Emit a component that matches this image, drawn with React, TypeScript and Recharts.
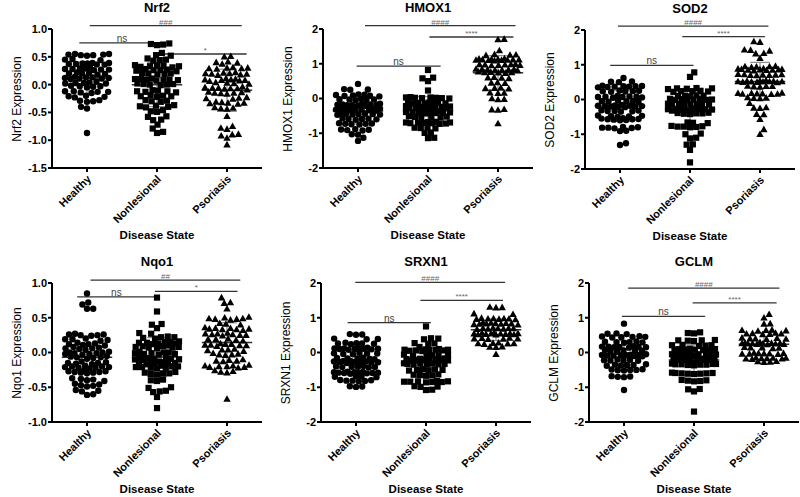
import React from "react";
import { ScatterChart, Scatter, XAxis, YAxis, ReferenceLine } from "recharts";

const FONT = '"Liberation Sans", Arial, sans-serif';

const categories = ["Healthy", "Nonlesional", "Psoriasis"];

// ---- Nrf2 ----
const nrf2Healthy = [
  0.55, 0.54, 0.53, 0.55, 0.52, 0.53, 0.54, 0.46, 0.44, 0.45, 0.38, 0.37, 0.39, 0.36, 0.38, 0.37, 0.36, 0.39,
  0.29, 0.28, 0.27, 0.3, 0.28, 0.29, 0.27, 0.26, 0.21, 0.2, 0.19, 0.22, 0.2, 0.18, 0.13, 0.12, 0.11, 0.14, 0.12,
  0.13, 0.1, 0.11, 0.04, 0.03, 0.02, 0.05, 0.03, 0.02, -0.03, -0.04, -0.02, -0.05, -0.03, -0.13, -0.12, -0.14,
  -0.15, -0.12, -0.13, -0.22, -0.21, -0.2, -0.23, -0.3, -0.29, -0.31, -0.28, -0.4, -0.43, -0.87,
];
const nrf2Nonlesional = [
  0.73, 0.72, 0.74, 0.71, 0.57, 0.53, 0.52, 0.47, 0.45, 0.43, 0.44, 0.34, 0.33, 0.32, 0.35, 0.33, 0.31, 0.34,
  0.27, 0.26, 0.25, 0.28, 0.26, 0.24, 0.2, 0.19, 0.21, 0.18, 0.2, 0.1, 0.09, 0.08, 0.11, 0.09, 0.07, 0.1, 0.08,
  0.01, 0.0, 0.02, -0.01, 0.0, 0.01, -0.11, -0.12, -0.13, -0.1, -0.12, -0.14, -0.21, -0.2, -0.22, -0.21, -0.19,
  -0.3, -0.29, -0.31, -0.28, -0.39, -0.4, -0.38, -0.41, -0.37, -0.48, -0.46, -0.49, -0.57, -0.58, -0.63, -0.64,
  -0.72, -0.79, -0.87, -0.85,
];
const nrf2Psoriasis = [
  0.5, 0.51, 0.41, 0.4, 0.39, 0.37, 0.3, 0.29, 0.31, 0.28, 0.29, 0.3, 0.2, 0.19, 0.21, 0.18, 0.2, 0.22, 0.19,
  0.17, 0.09, 0.08, 0.1, 0.07, 0.09, 0.11, 0.08, 0.06, 0.03, 0.02, 0.04, 0.01, -0.06, -0.07, -0.05, -0.08, -0.06,
  -0.07, -0.04, -0.09, -0.15, -0.16, -0.14, -0.17, -0.15, -0.13, -0.24, -0.25, -0.23, -0.26, -0.33, -0.34, -0.32,
  -0.35, -0.33, -0.31, -0.42, -0.43, -0.41, -0.44, -0.57, -0.75, -0.78, -0.8, -0.9, -0.92, -0.89, -0.96, -1.08,
];

// ---- HMOX1 ----
const hmox1Healthy = [
  0.42, 0.27, 0.25, 0.26, 0.1, 0.08, 0.12, 0.06, 0.09, 0.11, 0.07, -0.03, -0.02, -0.04, -0.01, -0.03, -0.05,
  -0.18, -0.17, -0.19, -0.16, -0.18, -0.2, -0.17, -0.19, -0.15, -0.21, -0.32, -0.31, -0.33, -0.3, -0.32, -0.34,
  -0.31, -0.33, -0.29, -0.35, -0.45, -0.44, -0.46, -0.43, -0.47, -0.45, -0.44, -0.46, -0.59, -0.58, -0.6, -0.57,
  -0.61, -0.59, -0.73, -0.72, -0.74, -0.71, -0.75, -0.73, -0.9, -0.88, -0.91, -0.89, -0.92, -1.04, -1.03, -1.13,
  -1.22,
];
const hmox1Nonlesional = [
  0.82, 0.6, 0.58, 0.5, 0.23, 0.02, 0.01, 0.03, 0.0, 0.02, 0.04, 0.01, 0.03, -0.13, -0.12, -0.14, -0.11, -0.13,
  -0.15, -0.12, -0.14, -0.25, -0.24, -0.26, -0.23, -0.25, -0.27, -0.24, -0.26, -0.22, -0.28, -0.4, -0.39, -0.41,
  -0.38, -0.4, -0.42, -0.39, -0.41, -0.37, -0.43, -0.53, -0.52, -0.54, -0.51, -0.55, -0.53, -0.7, -0.69, -0.71,
  -0.68, -0.72, -0.7, -0.69, -0.71, -0.67, -0.73, -0.85, -0.84, -0.86, -0.83, -0.99, -0.98, -1.14, -1.13,
];
const hmox1Psoriasis = [
  1.7, 1.71, 1.38, 1.26, 1.25, 1.27, 1.24, 1.12, 1.11, 1.13, 1.1, 1.12, 1.14, 1.11, 1.13, 1.09, 1.15, 1.12, 1.1,
  0.97, 0.96, 0.98, 0.95, 0.97, 0.99, 0.96, 0.98, 0.83, 0.82, 0.84, 0.81, 0.83, 0.85, 0.82, 0.84, 0.75, 0.74,
  0.76, 0.73, 0.75, 0.77, 0.6, 0.59, 0.61, 0.58, 0.45, 0.44, 0.46, 0.3, 0.29, 0.31, 0.28, 0.16, 0.15, 0.17,
  -0.03, -0.02, 0.0, -0.32, -0.31, -0.33, -0.72,
];

// ---- SOD2 ----
const sod2Healthy = [
  0.62, 0.52, 0.5, 0.51, 0.38, 0.37, 0.39, 0.36, 0.38, 0.4, 0.37, 0.35, 0.24, 0.23, 0.25, 0.22, 0.24, 0.26, 0.08,
  0.07, 0.09, 0.06, 0.08, 0.1, 0.07, 0.05, -0.05, -0.04, -0.06, -0.03, -0.05, -0.07, -0.19, -0.18, -0.2, -0.17,
  -0.19, -0.21, -0.18, -0.2, -0.16, -0.22, -0.33, -0.32, -0.34, -0.31, -0.35, -0.33, -0.48, -0.47, -0.49, -0.46,
  -0.5, -0.57, -0.56, -0.58, -0.55, -0.59, -0.57, -0.6, -0.54, -0.81, -0.8, -0.82, -0.79, -0.83, -0.81, -0.9,
  -0.91, -1.26, -1.31,
];
const sod2Nonlesional = [
  0.78, 0.65, 0.32, 0.31, 0.33, 0.3, 0.32, 0.24, 0.23, 0.25, 0.22, 0.24, 0.11, 0.1, 0.12, 0.09, 0.11, 0.0, 0.01,
  -0.01, 0.02, 0.0, -0.02, 0.01, -0.01, -0.14, -0.13, -0.15, -0.12, -0.14, -0.16, -0.13, -0.15, -0.29, -0.28,
  -0.3, -0.27, -0.29, -0.31, -0.28, -0.3, -0.26, -0.32, -0.4, -0.39, -0.41, -0.38, -0.42, -0.4, -0.67, -0.66,
  -0.68, -0.78, -0.77, -0.79, -0.76, -0.8, -0.78, -1.0, -0.98, -1.1, -1.12, -1.29, -1.3, -1.45, -1.81,
];
const sod2Psoriasis = [
  1.67, 1.65, 1.43, 1.42, 1.4, 1.33, 1.32, 1.19, 0.95, 0.94, 0.96, 0.93, 0.95, 0.86, 0.85, 0.87, 0.84, 0.86,
  0.88, 0.85, 0.87, 0.83, 0.89, 0.71, 0.7, 0.72, 0.69, 0.71, 0.73, 0.7, 0.72, 0.52, 0.51, 0.53, 0.5, 0.52, 0.54,
  0.51, 0.53, 0.49, 0.55, 0.52, 0.5, 0.38, 0.37, 0.39, 0.36, 0.38, 0.17, 0.16, 0.18, 0.15, 0.17, 0.19, 0.16,
  0.18, 0.05, 0.04, 0.06, 0.03, -0.11, -0.24, -0.23, -0.25, -0.43, -0.42, -0.57, -0.86, -1.0,
];

// ---- Nqo1 ----
const nqo1Healthy = [
  0.85, 0.72, 0.69, 0.63, 0.63, 0.25, 0.26, 0.24, 0.27, 0.25, 0.26, 0.19, 0.18, 0.2, 0.17, 0.19, 0.12, 0.11, 0.13,
  0.1, 0.12, 0.14, 0.06, 0.05, 0.07, 0.04, 0.06, 0.08, -0.01, 0.0, -0.02, 0.01, -0.01, -0.03, 0.0, -0.02, -0.07,
  -0.06, -0.08, -0.05, -0.07, -0.09, -0.15, -0.14, -0.16, -0.13, -0.15, -0.17, -0.21, -0.2, -0.22, -0.19, -0.21,
  -0.23, -0.2, -0.22, -0.28, -0.27, -0.29, -0.26, -0.28, -0.3, -0.27, -0.29, -0.39, -0.38, -0.4, -0.37, -0.41,
  -0.47, -0.46, -0.48, -0.45, -0.49, -0.55, -0.54, -0.56, -0.61, -0.6,
];
const nqo1Nonlesional = [
  0.79, 0.59, 0.41, 0.4, 0.35, 0.28, 0.27, 0.22, 0.21, 0.23, 0.2, 0.22, 0.14, 0.13, 0.15, 0.12, 0.14, 0.16, 0.13,
  0.15, 0.08, 0.07, 0.09, 0.06, 0.08, 0.1, 0.07, 0.09, -0.01, 0.0, -0.02, 0.01, -0.01, -0.03, 0.0, -0.02, -0.09,
  -0.08, -0.1, -0.07, -0.09, -0.11, -0.08, -0.1, -0.15, -0.14, -0.16, -0.13, -0.15, -0.17, -0.14, -0.16, -0.21,
  -0.2, -0.22, -0.19, -0.21, -0.23, -0.2, -0.22, -0.3, -0.29, -0.31, -0.28, -0.3, -0.32, -0.4, -0.39, -0.41,
  -0.51, -0.5, -0.56, -0.55, -0.57, -0.64, -0.8,
];
const nqo1Psoriasis = [
  0.79, 0.72, 0.71, 0.63, 0.49, 0.48, 0.5, 0.47, 0.49, 0.51, 0.48, 0.41, 0.4, 0.42, 0.34, 0.33, 0.35, 0.32, 0.34,
  0.36, 0.33, 0.35, 0.26, 0.25, 0.27, 0.24, 0.26, 0.28, 0.25, 0.27, 0.19, 0.18, 0.2, 0.17, 0.19, 0.11, 0.1, 0.12,
  0.09, 0.11, 0.13, 0.1, 0.12, 0.04, 0.03, 0.05, 0.02, 0.04, -0.03, -0.02, -0.04, -0.01, -0.03, -0.12, -0.11,
  -0.13, -0.1, -0.12, -0.2, -0.19, -0.21, -0.18, -0.2, -0.22, -0.19, -0.21, -0.28, -0.27, -0.29, -0.26, -0.67,
];

// ---- SRXN1 ----
const srxn1Healthy = [
  0.51, 0.53, 0.52, 0.4, 0.39, 0.38, 0.26, 0.25, 0.27, 0.24, 0.26, 0.28, 0.11, 0.1, 0.12, 0.09, 0.11, 0.13, 0.1,
  0.12, 0.08, 0.14, -0.03, -0.02, -0.04, -0.01, -0.03, -0.05, -0.17, -0.16, -0.18, -0.15, -0.17, -0.19, -0.27,
  -0.26, -0.28, -0.25, -0.27, -0.29, -0.26, -0.28, -0.24, -0.3, -0.41, -0.4, -0.42, -0.39, -0.41, -0.43, -0.42,
  -0.58, -0.57, -0.59, -0.56, -0.58, -0.6, -0.57, -0.59, -0.55, -0.61, -0.58, -0.7, -0.69, -0.71, -0.68, -0.81,
  -0.8, -0.82, -0.79, -0.83, -0.81, -0.98, -0.97, -0.99,
];
const srxn1Nonlesional = [
  0.75, 0.4, 0.38, 0.41, 0.26, 0.25, 0.27, 0.16, 0.07, 0.06, 0.08, 0.05, 0.07, 0.09, 0.06, 0.08, 0.04, 0.1, -0.08,
  -0.07, -0.09, -0.06, -0.08, -0.1, -0.2, -0.19, -0.21, -0.18, -0.2, -0.22, -0.19, -0.21, -0.17, -0.23, -0.33,
  -0.32, -0.34, -0.31, -0.33, -0.35, -0.32, -0.34, -0.5, -0.49, -0.51, -0.48, -0.5, -0.52, -0.65, -0.64, -0.66,
  -0.63, -0.67, -0.84, -0.83, -0.85, -0.82, -0.86, -0.84, -0.83, -0.85, -0.98, -0.97, -0.99, -1.08, -1.07,
];
const srxn1Psoriasis = [
  1.3, 1.29, 1.31, 1.1, 1.12, 0.97, 0.96, 0.98, 0.95, 0.97, 0.99, 0.96, 0.98, 0.83, 0.82, 0.84, 0.81, 0.83, 0.85,
  0.82, 0.84, 0.8, 0.86, 0.69, 0.68, 0.7, 0.67, 0.69, 0.71, 0.68, 0.7, 0.54, 0.53, 0.55, 0.52, 0.54, 0.56, 0.53,
  0.55, 0.51, 0.57, 0.54, 0.52, 0.4, 0.39, 0.41, 0.38, 0.4, 0.42, 0.26, 0.25, 0.27, 0.24, 0.26, 0.28, 0.16, 0.15,
  0.17, -0.05,
];

// ---- GCLM ----
const gclmHealthy = [
  0.83, 0.54, 0.53, 0.55, 0.45, 0.44, 0.46, 0.43, 0.45, 0.47, 0.3, 0.29, 0.31, 0.28, 0.3, 0.32, 0.16, 0.15, 0.17,
  0.14, 0.16, 0.18, 0.15, 0.17, 0.05, 0.04, 0.06, 0.03, 0.05, 0.07, -0.08, -0.07, -0.09, -0.06, -0.08, -0.1,
  -0.07, -0.09, -0.05, -0.11, -0.22, -0.21, -0.23, -0.2, -0.22, -0.24, -0.36, -0.35, -0.37, -0.34, -0.36, -0.38,
  -0.5, -0.49, -0.51, -0.48, -0.5, -0.52, -0.7, -0.69, -0.71, -0.68, -1.08,
];
const gclmNonlesional = [
  0.56, 0.58, 0.55, 0.35, 0.34, 0.36, 0.33, 0.35, 0.21, 0.2, 0.22, 0.19, 0.21, 0.09, 0.08, 0.1, 0.07, 0.09, 0.11,
  0.08, 0.1, -0.06, -0.05, -0.07, -0.04, -0.06, -0.08, -0.05, -0.07, -0.03, -0.09, -0.2, -0.19, -0.21, -0.18,
  -0.2, -0.22, -0.19, -0.21, -0.17, -0.23, -0.34, -0.33, -0.35, -0.32, -0.34, -0.36, -0.33, -0.35, -0.31, -0.37,
  -0.6, -0.59, -0.61, -0.58, -0.6, -0.62, -0.59, -0.61, -0.81, -0.8, -0.82, -0.79, -0.83, -1.06, -1.05, -1.12,
  -1.7,
];
const gclmPsoriasis = [
  1.1, 1.0, 0.83, 0.82, 0.64, 0.63, 0.65, 0.62, 0.64, 0.54, 0.53, 0.55, 0.52, 0.54, 0.56, 0.4, 0.39, 0.41, 0.38,
  0.4, 0.42, 0.26, 0.25, 0.27, 0.24, 0.26, 0.28, 0.25, 0.27, 0.23, 0.29, 0.26, 0.24, 0.14, 0.13, 0.15, 0.12,
  0.14, -0.03, -0.02, -0.04, -0.01, -0.03, -0.05, -0.02, -0.04, -0.17, -0.16, -0.18, -0.15, -0.17, -0.19, -0.16,
  -0.18, -0.27, -0.26, -0.28, -0.25,
];

// y-axis ticks
const nrf2Ticks = [-1.5, -1.0, -0.5, 0, 0.5, 1.0];
const nqo1Ticks = [-1.0, -0.5, 0, 0.5, 1.0];
const wideTicks = [-2, -1, 0, 1, 2];

// significance bars: from / to on the category axis, y level, text
const nrf2Stats = [
  { from: 0.04, to: 2.21, y: 1.06, text: "###" },
  { from: -0.11, to: 1.11, y: 0.75, text: "ns" },
  { from: 1.1, to: 2.28, y: 0.55, text: "*" },
];
const hmox1Stats = [
  { from: 0.1, to: 2.25, y: 2.1, text: "####" },
  { from: 1.02, to: 2.22, y: 1.77, text: "****" },
  { from: -0.02, to: 1.18, y: 0.93, text: "ns" },
];
const sod2Stats = [
  { from: -0.03, to: 2.12, y: 2.11, text: "####" },
  { from: 0.89, to: 2.07, y: 1.81, text: "****" },
  { from: -0.14, to: 1.05, y: 0.98, text: "ns" },
];
const nqo1Stats = [
  { from: 0.05, to: 2.19, y: 1.04, text: "##" },
  { from: -0.14, to: 0.98, y: 0.8, text: "ns" },
  { from: 0.97, to: 2.15, y: 0.88, text: "*" },
];
const srxn1Stats = [
  { from: -0.01, to: 2.13, y: 2.02, text: "####" },
  { from: 0.92, to: 2.1, y: 1.5, text: "****" },
  { from: -0.12, to: 1.07, y: 0.86, text: "ns" },
];
const gclmStats = [
  { from: 0.06, to: 2.22, y: 1.85, text: "####" },
  { from: 0.98, to: 2.18, y: 1.43, text: "****" },
  { from: -0.03, to: 1.16, y: 1.04, text: "ns" },
];

const panels = [
  { title: "Nrf2", groups: [nrf2Healthy, nrf2Nonlesional, nrf2Psoriasis], ticks: nrf2Ticks, stats: nrf2Stats, decimals: 1, left: 52, top: 29 },
  { title: "HMOX1", groups: [hmox1Healthy, hmox1Nonlesional, hmox1Psoriasis], ticks: wideTicks, stats: hmox1Stats, decimals: 0, left: 323, top: 29 },
  { title: "SOD2", groups: [sod2Healthy, sod2Nonlesional, sod2Psoriasis], ticks: wideTicks, stats: sod2Stats, decimals: 0, left: 585, top: 30 },
  { title: "Nqo1", groups: [nqo1Healthy, nqo1Nonlesional, nqo1Psoriasis], ticks: nqo1Ticks, stats: nqo1Stats, decimals: 1, left: 52, top: 283 },
  { title: "SRXN1", groups: [srxn1Healthy, srxn1Nonlesional, srxn1Psoriasis], ticks: wideTicks, stats: srxn1Stats, decimals: 0, left: 321, top: 283 },
  { title: "GCLM", groups: [gclmHealthy, gclmNonlesional, gclmPsoriasis], ticks: wideTicks, stats: gclmStats, decimals: 0, left: 589, top: 283 },
];

const W = 270;
const H = 248;
const AXIS_W = 52;
const MT = 29;
const PLOT_W = 210;
const PLOT_H = 139;
const X_PX = PLOT_W / 3;
const DOT = 6.2;
const HALF_W = 22;

// column scatter layout: each point goes as close to the centre as it can
// without touching the ones already placed; crowded rows get squeezed
function swarm(values: number[], pxPerY: number) {
  const order = values.map((_, i) => i).sort((a, b) => values[a] - values[b]);
  const placed: { x: number; y: number }[] = [];
  const out = new Array(values.length).fill(0);
  let flip = 1;
  for (const id of order) {
    const y = values[id] * pxPerY;
    const near = placed.filter((p) => Math.abs(p.y - y) < DOT);
    const blocked = near.map((p) => {
      const w = Math.sqrt(DOT * DOT - (p.y - y) * (p.y - y));
      return [p.x - w, p.x + w];
    });
    const cands = [0, ...blocked.flat()]
      .filter((c) => Math.abs(c) <= HALF_W)
      .sort((a, b) => Math.abs(a) - Math.abs(b) || flip * (a - b));
    let x = cands.find((c) => blocked.every(([a, b]) => c <= a + 1e-6 || c >= b - 1e-6));
    if (x === undefined) {
      let best = 0;
      let bestGap = -1;
      for (let c = -HALF_W; c <= HALF_W; c += 0.5) {
        const gap = Math.min(...near.map((p) => Math.hypot(p.x - c, p.y - y)));
        if (gap > bestGap) {
          bestGap = gap;
          best = c;
        }
      }
      x = best;
    }
    flip = -flip;
    placed.push({ x, y });
    out[id] = x / X_PX;
  }
  return out;
}

const Circle = (p: any) => <circle cx={p.cx} cy={p.cy} r={3.2} fill="#000" />;
const Square = (p: any) => <rect x={p.cx - 3.1} y={p.cy - 3.1} width={6.2} height={6.2} fill="#000" />;
const Triangle = (p: any) => (
  <polygon points={`${p.cx},${p.cy - 3.8} ${p.cx + 3.7},${p.cy + 2.8} ${p.cx - 3.7},${p.cy + 2.8}`} fill="#000" />
);
const shapes = [Circle, Square, Triangle];

const CategoryTick = (p: any) => {
  const x = p.x + 2;
  const y = p.y + 3;
  return (
    <text
      x={x}
      y={y}
      dy="0.35em"
      transform={`rotate(-45 ${x} ${y})`}
      textAnchor="end"
      fontSize={11}
      fontWeight="bold"
      fontFamily={FONT}
      fill="#000"
    >
      {categories[p.payload.value]}
    </text>
  );
};

function Panel({ cfg }: { cfg: (typeof panels)[number] }) {
  const lo = cfg.ticks[0];
  const hi = cfg.ticks[cfg.ticks.length - 1];
  const pxPerY = PLOT_H / (hi - lo);

  const series = cfg.groups.map((vals, g) => {
    const offs = swarm(vals, pxPerY);
    return vals.map((v, i) => ({ x: g + offs[i], y: v }));
  });

  const summary = cfg.groups.map((vals) => {
    const m = vals.reduce((s, v) => s + v, 0) / vals.length;
    const sd = Math.sqrt(vals.reduce((s, v) => s + (v - m) * (v - m), 0) / (vals.length - 1));
    return { m, sd };
  });

  return (
    <div style={{ position: "absolute", left: cfg.left - AXIS_W, top: cfg.top - MT, width: W, height: H }}>
      <div
        style={{
          position: "absolute",
          left: AXIS_W,
          top: 0,
          width: PLOT_W,
          textAlign: "center",
          font: `bold 13px ${FONT}`,
          lineHeight: "16px",
        }}
      >
        {cfg.title}
      </div>
      <div
        style={{
          position: "absolute",
          left: 17 - 80,
          top: MT + PLOT_H / 2 - 7,
          width: 160,
          height: 14,
          lineHeight: "14px",
          textAlign: "center",
          font: `12px ${FONT}`,
          transform: "rotate(-90deg)",
        }}
      >
        {`${cfg.title} Expression`}
      </div>
      <div
        style={{
          position: "absolute",
          left: AXIS_W,
          top: 228,
          width: PLOT_W,
          textAlign: "center",
          font: `bold 11.5px ${FONT}`,
          lineHeight: "14px",
        }}
      >
        Disease State
      </div>
      <div style={{ position: "absolute", left: 0, top: 0 }}>
        <ScatterChart width={W} height={H} margin={{ top: MT, right: W - AXIS_W - PLOT_W, bottom: 0, left: 0 }}>
          <XAxis
            type="number"
            dataKey="x"
            domain={[-0.5, 2.5]}
            ticks={[0, 1, 2]}
            allowDataOverflow
            height={H - MT - PLOT_H}
            axisLine={{ stroke: "#000", strokeWidth: 2 }}
            tickLine={{ stroke: "#000", strokeWidth: 2 }}
            tickSize={4}
            tick={<CategoryTick />}
            interval={0}
          />
          <YAxis
            type="number"
            dataKey="y"
            domain={[lo, hi]}
            ticks={cfg.ticks}
            allowDataOverflow
            width={AXIS_W}
            axisLine={{ stroke: "#000", strokeWidth: 2 }}
            tickLine={{ stroke: "#000", strokeWidth: 2 }}
            tickSize={4}
            tickMargin={1}
            tickFormatter={(v: number) => v.toFixed(cfg.decimals)}
            tick={{ fontSize: 11, fontWeight: "bold", fill: "#000", fontFamily: FONT }}
            interval={0}
          />
          {series.map((data, g) => (
            <Scatter key={g} data={data} shape={shapes[g]} isAnimationActive={false} />
          ))}
          {summary.map(({ m, sd }, g) => [
            <ReferenceLine key={`v${g}`} segment={[{ x: g, y: m - sd }, { x: g, y: m + sd }]} stroke="#8a8a8a" strokeWidth={1.2} />,
            <ReferenceLine key={`t${g}`} segment={[{ x: g - 0.14, y: m + sd }, { x: g + 0.14, y: m + sd }]} stroke="#8a8a8a" strokeWidth={1.2} />,
            <ReferenceLine key={`b${g}`} segment={[{ x: g - 0.14, y: m - sd }, { x: g + 0.14, y: m - sd }]} stroke="#8a8a8a" strokeWidth={1.2} />,
            <ReferenceLine key={`m${g}`} segment={[{ x: g - 0.36, y: m }, { x: g + 0.36, y: m }]} stroke="#333" strokeWidth={1.5} />,
          ])}
          {cfg.stats.map((s, i) => (
            <ReferenceLine
              key={`s${i}`}
              segment={[{ x: s.from, y: s.y }, { x: s.to, y: s.y }]}
              stroke="#333"
              strokeWidth={1.3}
              ifOverflow="visible"
              label={{
                value: s.text,
                position: "top",
                offset: 1,
                fill: s.text === "ns" ? "#444" : "#666",
                fontSize: s.text === "ns" ? 10 : 8,
                fontFamily: FONT,
              }}
            />
          ))}
        </ScatterChart>
      </div>
    </div>
  );
}

export default function App() {
  return (
    <div style={{ position: "relative", width: 800, height: 497, background: "#fff", overflow: "hidden", fontFamily: FONT }}>
      <style>{"body{margin:0}"}</style>
      {panels.map((p) => (
        <Panel key={p.title} cfg={p} />
      ))}
    </div>
  );
}
